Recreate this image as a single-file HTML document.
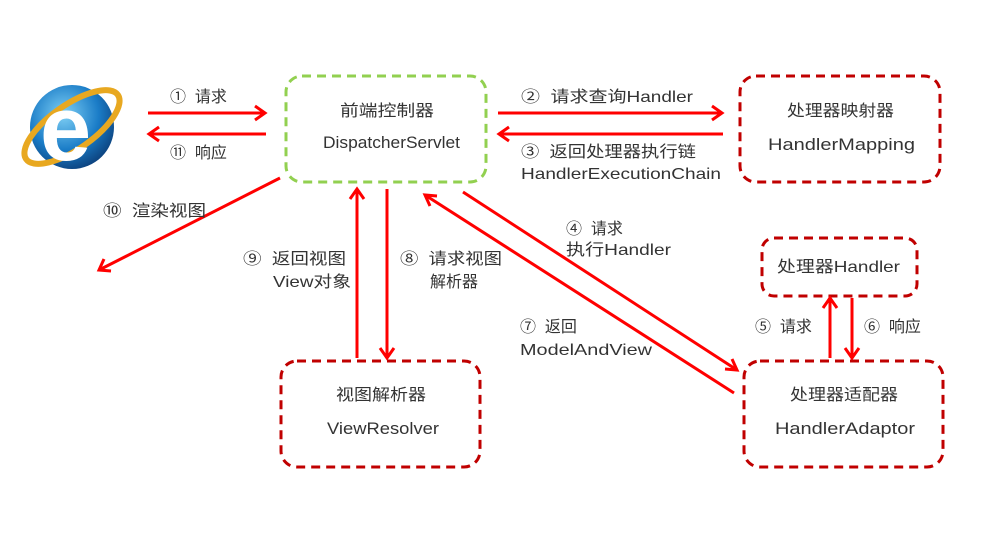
<!DOCTYPE html>
<html><head><meta charset="utf-8"><style>
html,body{margin:0;padding:0;background:#fff;}
svg text{font-family:"Liberation Sans","Noto Sans CJK SC",sans-serif;font-size:16px;fill:#333;}
</style></head><body>
<svg width="1001" height="531" viewBox="0 0 1001 531" xmlns="http://www.w3.org/2000/svg">
<defs>
<radialGradient id="g" cx="0.4" cy="0.35" r="0.7"><stop offset="0" stop-color="#7fd0f5"/><stop offset="0.6" stop-color="#1a7cc7"/><stop offset="1" stop-color="#0c3f7a"/></radialGradient>
</defs>
<circle cx="72" cy="127" r="42" fill="url(#g)"/>
<ellipse cx="72" cy="127" rx="56" ry="22" transform="rotate(-35 72 127)" fill="none" stroke="#e8a820" stroke-width="6"/>
<text x="40" y="160" style="font-size:92px;font-weight:bold;fill:#fff;font-family:'Liberation Sans',sans-serif">e</text>

<g fill="none" stroke-dasharray="9 6" stroke-width="3" stroke-linejoin="round">
<rect x="286" y="76" width="200" height="106" rx="16" stroke="#92d050"/>
<rect x="740" y="76" width="200" height="106" rx="16" stroke="#c00000"/>
<rect x="762" y="238" width="155" height="58" rx="12" stroke="#c00000"/>
<rect x="744" y="361" width="199" height="106" rx="16" stroke="#c00000"/>
<rect x="281" y="361" width="199" height="106" rx="16" stroke="#c00000"/>
</g>

<g stroke="#ff0000" stroke-width="3" fill="none">
<line x1="148" y1="113" x2="265" y2="113"/><polyline points="255,106 265,113 255,120"/>
<line x1="266" y1="134" x2="149" y2="134"/><polyline points="159,127 149,134 159,141"/>
<line x1="498" y1="113" x2="722" y2="113"/><polyline points="712,106 722,113 712,120"/>
<line x1="723" y1="134" x2="499" y2="134"/><polyline points="509,127 499,134 509,141"/>
<line x1="280" y1="178" x2="99" y2="270"/><polyline points="104,259 99,270 111,271"/>
<line x1="357" y1="358" x2="357" y2="189"/><polyline points="350,199 357,189 364,199"/>
<line x1="387" y1="189" x2="387" y2="358"/><polyline points="380,348 387,358 394,348"/>
<line x1="463" y1="192" x2="737" y2="370"/><polyline points="725,369 737,370 732,359"/>
<line x1="734" y1="393" x2="425" y2="195"/><polyline points="430,206 425,195 437,196"/>
<line x1="830" y1="358" x2="830" y2="298"/><polyline points="823,308 830,298 837,308"/>
<line x1="852" y1="298" x2="852" y2="358"/><polyline points="845,348 852,358 859,348"/>
</g>

<text x="340" y="116" textLength="94" lengthAdjust="spacingAndGlyphs">前端控制器</text>
<text x="323" y="148" style="font-size:17px" textLength="137" lengthAdjust="spacingAndGlyphs">DispatcherServlet</text>
<text x="787" y="116" textLength="107" lengthAdjust="spacingAndGlyphs">处理器映射器</text>
<text x="768" y="150" style="font-size:17px" textLength="147" lengthAdjust="spacingAndGlyphs">HandlerMapping</text>
<text x="777" y="272" textLength="123" lengthAdjust="spacingAndGlyphs">处理器Handler</text>
<text x="790" y="400" textLength="108" lengthAdjust="spacingAndGlyphs">处理器适配器</text>
<text x="775" y="434" style="font-size:17px" textLength="140" lengthAdjust="spacingAndGlyphs">HandlerAdaptor</text>
<text x="336" y="400" textLength="90" lengthAdjust="spacingAndGlyphs">视图解析器</text>
<text x="327" y="434" style="font-size:17px" textLength="112" lengthAdjust="spacingAndGlyphs">ViewResolver</text>

<text x="170" y="102">①&#160; 请求</text>
<text x="170" y="158">⑪&#160; 响应</text>
<text x="521" y="102" textLength="172" lengthAdjust="spacingAndGlyphs">②&#160; 请求查询Handler</text>
<text x="521" y="157" textLength="175" lengthAdjust="spacingAndGlyphs">③&#160; 返回处理器执行链</text>
<text x="521" y="179" textLength="200" lengthAdjust="spacingAndGlyphs">HandlerExecutionChain</text>
<text x="103" y="216" textLength="103" lengthAdjust="spacingAndGlyphs">⑩&#160; 渲染视图</text>
<text x="243" y="264" textLength="103" lengthAdjust="spacingAndGlyphs">⑨&#160; 返回视图</text>
<text x="273" y="287" textLength="78" lengthAdjust="spacingAndGlyphs">View对象</text>
<text x="400" y="264" textLength="102" lengthAdjust="spacingAndGlyphs">⑧&#160; 请求视图</text>
<text x="430" y="287">解析器</text>
<text x="566" y="234">④&#160; 请求</text>
<text x="566" y="255" textLength="105" lengthAdjust="spacingAndGlyphs">执行Handler</text>
<text x="520" y="332">⑦&#160; 返回</text>
<text x="520" y="355" textLength="132" lengthAdjust="spacingAndGlyphs">ModelAndView</text>
<text x="755" y="332">⑤&#160; 请求</text>
<text x="864" y="332">⑥&#160; 响应</text>
</svg>
</body></html>
